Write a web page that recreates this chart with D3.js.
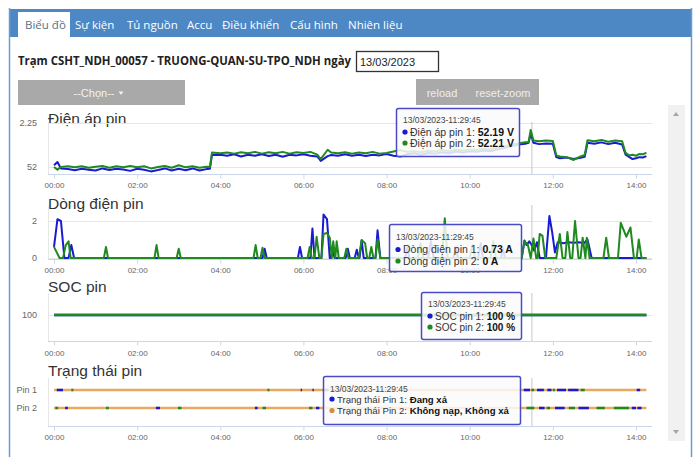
<!DOCTYPE html>
<html><head><meta charset="utf-8">
<script src="https://cdn.jsdelivr.net/npm/d3@7"></script>
<style>
html,body{margin:0;padding:0;background:#fff;overflow:hidden}
svg{display:block}
</style></head><body>
<svg id="c" width="696" height="457"></svg>
<script>
// ---------- DATA ----------
const tabs = ["Biểu đồ","Sự kiện","Tủ nguồn","Accu","Điều khiển","Cấu hình","Nhiên liệu"];
const stationTitle = "Trạm CSHT_NDH_00057 - TRUONG-QUAN-SU-TPO_NDH ngày";
const dateValue = "13/03/2023";
const chartTitles = ["Điện áp pin","Dòng điện pin","SOC pin","Trạng thái pin"];
const xTickLabels = ["00:00","02:00","04:00","06:00","08:00","10:00","12:00","14:00"];
const voltageTicks = [52, 52.25];
const voltageTickLabels = ["52", "2.25"];
const currentTicks = [0, 2];
const socTicks = [100];
const statusCategories = ["Pin 1","Pin 2"];

const voltagePin1 = [["00:00",52.010],["00:05",52.028],["00:10",51.992],["00:20",51.988],["00:30",51.982],["00:40",51.990],["00:50",51.985],["01:00",51.980],["01:10",51.992],["01:20",51.983],["01:30",51.990],["01:40",51.986],["01:50",51.978],["02:00",51.990],["02:10",51.984],["02:20",51.975],["02:30",51.983],["02:40",51.992],["02:50",51.980],["03:00",51.990],["03:10",51.982],["03:20",51.992],["03:30",51.980],["03:40",51.988],["03:45",51.990],["03:48",52.068],["04:00",52.070],["04:10",52.064],["04:20",52.072],["04:30",52.060],["04:40",52.070],["04:50",52.064],["05:00",52.072],["05:10",52.062],["05:20",52.070],["05:30",52.058],["05:40",52.070],["05:50",52.066],["06:00",52.072],["06:10",52.064],["06:20",52.060],["06:25",52.035],["06:35",52.062],["06:40",52.068],["06:50",52.064],["07:00",52.072],["07:10",52.064],["07:20",52.070],["07:30",52.062],["07:40",52.070],["07:50",52.066],["08:00",52.074],["08:10",52.064],["08:20",52.060],["08:30",52.072],["08:40",52.078],["08:50",52.070],["09:00",52.080],["09:10",52.076],["09:20",52.084],["09:30",52.078],["09:40",52.088],["09:50",52.082],["10:00",52.090],["10:10",52.086],["10:20",52.094],["10:30",52.090],["10:40",52.100],["10:50",52.108],["11:00",52.118],["11:10",52.128],["11:20",52.132],["11:25",52.138],["11:28",52.190],["11:32",52.138],["11:40",52.130],["11:50",52.134],["12:00",52.132],["12:05",52.056],["12:10",52.050],["12:20",52.054],["12:30",52.046],["12:40",52.052],["12:46",52.058],["12:50",52.138],["13:00",52.132],["13:10",52.140],["13:20",52.130],["13:30",52.138],["13:40",52.128],["13:45",52.070],["13:50",52.058],["13:55",52.045],["14:00",52.050],["14:05",52.056],["14:10",52.054],["14:15",52.062]];

const voltagePin2 = [["00:00",52.000],["00:05",51.985],["00:10",52.000],["00:20",52.004],["00:30",51.998],["00:40",52.004],["00:50",51.996],["01:00",52.002],["01:10",52.006],["01:20",51.996],["01:30",52.004],["01:40",51.998],["01:50",52.006],["02:00",51.998],["02:10",52.004],["02:20",51.992],["02:30",52.000],["02:40",52.006],["02:50",51.996],["03:00",52.010],["03:10",51.998],["03:20",52.004],["03:30",51.996],["03:40",52.002],["03:45",52.000],["03:48",52.082],["04:00",52.078],["04:10",52.082],["04:20",52.076],["04:30",52.084],["04:40",52.078],["04:50",52.086],["05:00",52.076],["05:10",52.084],["05:20",52.078],["05:30",52.086],["05:40",52.076],["05:50",52.084],["06:00",52.080],["06:10",52.086],["06:20",52.070],["06:25",52.045],["06:35",52.098],["06:40",52.082],["06:50",52.078],["07:00",52.084],["07:10",52.076],["07:20",52.082],["07:30",52.078],["07:40",52.086],["07:50",52.076],["08:00",52.080],["08:10",52.088],["08:20",52.096],["08:30",52.086],["08:40",52.090],["08:50",52.084],["09:00",52.092],["09:10",52.088],["09:20",52.096],["09:30",52.090],["09:40",52.098],["09:50",52.094],["10:00",52.100],["10:10",52.096],["10:20",52.104],["10:30",52.100],["10:40",52.110],["10:50",52.118],["11:00",52.126],["11:10",52.134],["11:20",52.140],["11:25",52.142],["11:28",52.210],["11:32",52.150],["11:40",52.146],["11:50",52.150],["12:00",52.148],["12:05",52.066],["12:10",52.060],["12:20",52.056],["12:30",52.040],["12:40",52.060],["12:46",52.068],["12:50",52.152],["13:00",52.146],["13:10",52.154],["13:20",52.144],["13:30",52.150],["13:40",52.146],["13:45",52.080],["13:50",52.066],["13:55",52.070],["14:00",52.064],["14:05",52.074],["14:10",52.072],["14:15",52.082]];

const currentPin1 = [["00:00",0.6],["00:05",2.1],["00:10",2.0],["00:15",0],["00:21",0],["00:25",0.7],["00:29",0],["05:01",0],["05:04",0.5],["05:07",0],["05:52",0],["05:55",0.6],["05:58",0],["06:10",0],["06:13",1.6],["06:16",0],["06:26",0],["06:29",2.35],["06:34",2.1],["06:38",0],["06:40",0],["06:42",0.5],["06:45",0],["07:01",0],["07:04",0.5],["07:07",0],["07:14",0],["07:17",0.45],["07:20",0],["07:21",0],["07:24",0.95],["07:27",0],["07:44",0],["07:47",1.5],["07:51",0],["08:27",0],["08:30",0.55],["08:33",0],["09:00",0],["09:04",0.9],["09:08",0],["09:36",0],["09:40",0.6],["09:43",0],["10:12",0],["10:16",0.8],["10:19",0],["10:45",0],["10:48",0.5],["10:51",0],["11:15",0],["11:19",0.95],["11:22",0.7],["11:26",0.9],["11:29",0.73],["11:33",0.4],["11:37",0.85],["11:41",0],["11:50",0],["11:55",2.27],["11:59",1.4],["12:03",0.3],["12:07",0.85],["12:15",0.8],["12:22",0.85],["12:30",0.82],["12:38",0.85],["12:45",0.8],["12:50",1.0],["12:56",0],["14:15",0]];

const currentPin2 = [["00:00",0.6],["00:08",0],["00:13",0],["00:17",0.7],["00:21",0.9],["00:24",0],["01:12",0],["01:15",0.6],["01:18",0],["02:25",0],["02:28",0.7],["02:31",0],["02:57",0],["03:00",0.5],["03:03",0],["04:48",0],["04:51",0.7],["04:54",0],["04:58",0],["05:01",0.55],["05:04",0],["06:06",0],["06:09",0.6],["06:12",0],["06:16",0],["06:19",1.15],["06:23",0],["06:26",0],["06:29",1.3],["06:34",1.35],["06:38",1.1],["06:41",0],["06:43",0.9],["06:46",0],["06:48",0.9],["06:51",0],["06:59",0],["07:02",0.5],["07:05",0],["07:20",0],["07:24",0.97],["07:29",0.8],["07:32",0],["07:35",0],["07:38",0.6],["07:41",0],["07:44",0],["07:47",1.0],["07:51",0],["08:45",0],["08:49",0.8],["08:53",0],["09:20",0],["09:24",2.15],["09:28",0],["10:00",0],["10:04",0.7],["10:08",0],["10:30",0],["10:34",0.9],["10:38",0],["11:15",0],["11:19",0.9],["11:24",0.7],["11:28",0],["11:32",1.05],["11:36",0],["11:38",0],["11:41",1.3],["11:45",1.2],["11:49",0],["12:05",0],["12:10",1.3],["12:14",0],["12:18",0],["12:21",1.4],["12:25",0],["12:28",0],["12:32",2.0],["12:37",0],["12:40",0],["12:43",1.1],["12:47",0],["12:49",1.1],["12:53",0],["13:13",0],["13:17",1.1],["13:21",0],["13:34",0],["13:38",1.9],["13:46",1.15],["13:52",1.65],["13:57",0],["14:01",0],["14:04",1.0],["14:08",0],["14:15",0]];

const socPin1 = [["00:00",100],["14:15",100]];
const socPin2 = [["00:00",100],["14:15",100]];

// status segments: [start, end, state]  0 = Không nạp, Không xả ; 1 = Đang xả ; 2 = Đang nạp
const statusRange = ["00:00","14:15"];
const statusPin1 = [["00:04","00:13",1],["00:25","00:28",2],["05:08","05:11",2],["05:56","05:58",1],["06:13","06:15",1],["06:28","06:36",1],["06:42","06:44",1],["07:03","07:05",1],["07:16","07:18",1],["07:23","07:26",2],["07:46","07:49",1],["11:18","11:27",1],["11:29","11:33",2],["11:37","11:47",1],["11:52","11:58",1],["12:00","12:03",2],["12:06","12:19",1],["12:22","12:37",1],["12:40","12:46",2],["14:01","14:06",1]];
const statusPin2 = [["00:02","00:06",2],["00:16","00:20",1],["01:15","01:19",2],["02:27","02:33",1],["02:59","03:04",2],["04:50","04:54",1],["05:01","05:06",2],["06:08","06:13",2],["06:18","06:23",1],["11:22","11:33",2],["11:40","11:48",1],["11:51","11:56",2],["12:03","12:17",1],["12:23","12:32",2],["12:37","12:52",1],["13:03","13:15",2],["13:28","13:50",2],["13:54","14:00",1],["14:02","14:08",1]];

const tooltipTime = "13/03/2023-11:29:45";
const tooltipVoltage = [["Điện áp pin 1: ","52.19 V"],["Điện áp pin 2: ","52.21 V"]];
const tooltipCurrent = [["Dòng điện pin 1: ","0.73 A"],["Dòng điện pin 2: ","0 A"]];
const tooltipSoc = [["SOC pin 1: ","100 %"],["SOC pin 2: ","100 %"]];
const tooltipStatus = [["Trạng thái Pin 1: ","Đang xả"],["Trạng thái Pin 2: ","Không nạp, Không xả"]];
const hoverTime = "11:29:45";

// ---------- STYLE ----------
const BLUE = "#1a1ad2", GREEN = "#1f8a1f", ORANGE = "#e9a95e";
const stateColors = [ORANGE, BLUE, GREEN];
const SANS = "'Liberation Sans', Arial, sans-serif";
const OPEN = "'Open Sans', 'Noto Sans', sans-serif";

const svg = d3.select("#c");
const parse = d3.timeParse("%H:%M");
const parseS = d3.timeParse("%H:%M:%S");

// ---------- PAGE CHROME ----------
svg.append("rect").attr("x",10).attr("y",9).attr("width",681).attr("height",28).attr("fill","#4d88c5");
svg.append("line").attr("x1",9.5).attr("x2",9.5).attr("y1",8).attr("y2",457).attr("stroke","#6b9bd0").attr("stroke-width",1.5);
svg.append("line").attr("x1",691.5).attr("x2",691.5).attr("y1",8).attr("y2",457).attr("stroke","#6b9bd0").attr("stroke-width",1.5);
svg.append("rect").attr("x",18).attr("y",12).attr("width",52).attr("height",25).attr("fill","#fff");
const tabX = [25,75,127,187,222,290,348];
svg.selectAll("text.tab").data(tabs).join("text").attr("class","tab")
  .attr("x",(d,i)=>tabX[i]).attr("y",28.5)
  .attr("font-family",OPEN).attr("font-size",11.5)
  .attr("fill",(d,i)=>i===0?"#5a6f86":"#fff").text(d=>d);

svg.append("text").attr("x",18).attr("y",64.5).attr("font-family",OPEN).attr("font-weight","bold")
  .attr("font-size",11.5).attr("fill","#222")
  .attr("textLength",333).attr("lengthAdjust","spacingAndGlyphs").text(stationTitle);
svg.append("rect").attr("x",356.5).attr("y",51.5).attr("width",82).attr("height",20).attr("fill","#fff").attr("stroke","#333").attr("stroke-width",1.3);
svg.append("text").attr("x",360).attr("y",66).attr("font-family",SANS).attr("font-size",11).attr("fill","#222").text(dateValue);

svg.append("rect").attr("x",18).attr("y",80).attr("width",167).attr("height",25).attr("fill","#a9a9a9");
svg.append("text").attr("x",94).attr("y",96.5).attr("text-anchor","middle").attr("font-family",SANS).attr("font-size",11).attr("fill","#f2f2f2").text("--Chọn--");
svg.append("path").attr("d","M118.5,91.5 l5,0 l-2.5,3.5 z").attr("fill","#f2f2f2");

svg.append("rect").attr("x",416).attr("y",79).attr("width",123).attr("height",26).attr("fill","#a9a9a9");
svg.append("text").attr("x",442).attr("y",96.5).attr("text-anchor","middle").attr("font-family",SANS).attr("font-size",11).attr("fill","#eee").text("reload");
svg.append("text").attr("x",503).attr("y",96.5).attr("text-anchor","middle").attr("font-family",SANS).attr("font-size",11).attr("fill","#eee").text("reset-zoom");

svg.append("rect").attr("x",668).attr("y",105).attr("width",17).attr("height",336).attr("fill","#f1f1f1");
svg.append("path").attr("d","M673,116 l6,0 l-3,-4 z").attr("fill","#a5a5a5");
svg.append("path").attr("d","M673,430 l6,0 l-3,4 z").attr("fill","#a5a5a5");

// ---------- CHARTS ----------
const x = d3.scaleTime().domain([parse("00:00"), parse("14:00")]).range([54, 636]);
const PL = 48, PR = 652;
const hx = x(parseS(hoverTime));

function frame(top, axisY, labelY) {
  const g = svg.append("g");
  g.append("line").attr("x1",PL+0.5).attr("x2",PL+0.5).attr("y1",top).attr("y2",axisY).attr("stroke","#e6e6e6");
  const ax = d3.axisBottom(x).tickValues(xTickLabels.map(parse)).tickFormat(d3.timeFormat("%H:%M")).tickSizeOuter(0).tickSize(4).tickPadding(labelY-axisY-10);
  const ag = g.append("g").attr("transform",`translate(0,${axisY+0.5})`).call(ax);
  ag.select(".domain").attr("d",`M${PL},0H${PR}`).attr("stroke","#ccd6eb");
  ag.selectAll(".tick line").attr("stroke","#ccd6eb");
  ag.selectAll(".tick text").attr("font-family",SANS).attr("font-size",8).attr("fill","#666");
  return g;
}
function yLabels(g, vals, yScale, labels) {
  g.selectAll("text.yl").data(vals).join("text").attr("class","yl")
    .attr("x",37).attr("y",d=>yScale(d)+3).attr("text-anchor","end")
    .attr("font-family",SANS).attr("font-size",9).attr("fill","#666")
    .text((d,i)=>labels[i]);
}
function grid(g, vals, yScale) {
  g.selectAll("line.gr").data(vals).join("line").attr("class","gr")
    .attr("x1",PL).attr("x2",PR).attr("y1",d=>Math.round(yScale(d))+0.5).attr("y2",d=>Math.round(yScale(d))+0.5)
    .attr("stroke","#e6e6e6");
}
function title(txt, y) {
  svg.append("text").attr("x",48).attr("y",y).attr("font-family",SANS).attr("font-size",15.5).attr("fill","#333").text(txt);
}
function crosshair(top, bottom) {
  svg.append("line").attr("x1",hx).attr("x2",hx).attr("y1",top).attr("y2",bottom).attr("stroke","#c8c8c8").attr("stroke-width",1);
}
function series(data, yScale, color, w) {
  const line = d3.line().x(d=>x(parse(d[0]))).y(d=>yScale(d[1]));
  svg.append("path").attr("d",line(data)).attr("fill","none").attr("stroke",color)
    .attr("stroke-width",w||2).attr("stroke-linejoin","round");
}
function tooltip(bx, by, bw, bh, rows, colors, hy, ly1, ly2, fs) {
  const g = svg.append("g");
  g.append("rect").attr("x",bx+0.5).attr("y",by+0.5).attr("width",bw).attr("height",bh).attr("rx",2)
    .attr("fill","rgba(250,250,250,0.86)").attr("stroke","#4a4ac8").attr("stroke-width",1.5);
  g.append("text").attr("x",bx+7).attr("y",hy).attr("font-family",SANS).attr("font-size",8.5).attr("fill","#444").text(tooltipTime);
  [ly1, ly2].forEach((ly,i)=>{
    g.append("circle").attr("cx",bx+9).attr("cy",ly-3.5).attr("r",2.6).attr("fill",colors[i]);
    const t = g.append("text").attr("x",bx+14).attr("y",ly).attr("font-family",SANS).attr("font-size",fs).attr("fill","#333");
    t.append("tspan").text(rows[i][0]);
    t.append("tspan").attr("font-weight","bold").attr("fill","#111").text(rows[i][1]);
  });
}

// Chart 1 : voltage
title(chartTitles[0], 124);
const y1 = d3.scaleLinear().domain([52, 52.25]).range([167, 123]);
const g1 = frame(122, 174, 188);
grid(g1, voltageTicks, y1);
yLabels(g1, voltageTicks, y1, voltageTickLabels);
crosshair(122, 174);
series(voltagePin1, y1, BLUE);
series(voltagePin2, y1, GREEN);

// Chart 2 : current
title(chartTitles[1], 208.5);
const y2 = d3.scaleLinear().domain([0, 2]).range([258, 221]);
const g2 = frame(206, 259, 272.5);
grid(g2, currentTicks, y2);
yLabels(g2, currentTicks, y2, currentTicks.map(String));
crosshair(205, 259);
series(currentPin1, y2, BLUE);
series(currentPin2, y2, GREEN);

// Chart 3 : SOC
title(chartTitles[2], 291.5);
const y3 = d3.scaleLinear().domain([99, 101]).range([337, 293]);
const g3 = frame(293, 341, 356);
grid(g3, socTicks, y3);
yLabels(g3, socTicks, y3, socTicks.map(String));
crosshair(293, 341);
series(socPin1, y3, BLUE, 2.5);
series(socPin2, y3, GREEN, 2.5);

// Chart 4 : status
title(chartTitles[3], 375.5);
const y4 = d3.scalePoint().domain(statusCategories).range([390, 408]);
const g4 = frame(378, 426, 439.5);
g4.selectAll("text.yl").data(statusCategories).join("text").attr("class","yl")
  .attr("x",37).attr("y",d=>y4(d)+3).attr("text-anchor","end")
  .attr("font-family",SANS).attr("font-size",9).attr("fill","#666").text(d=>d);
crosshair(378, 426);
[[statusCategories[0], statusPin1],[statusCategories[1], statusPin2]].forEach(([cat, segs])=>{
  const yy = y4(cat);
  svg.append("line").attr("x1",x(parse(statusRange[0]))).attr("x2",x(parse(statusRange[1])))
    .attr("y1",yy).attr("y2",yy).attr("stroke",ORANGE).attr("stroke-width",2.5);
  svg.selectAll(null).data(segs).join("line")
    .attr("x1",d=>x(parse(d[0]))).attr("x2",d=>x(parse(d[1])))
    .attr("y1",yy).attr("y2",yy).attr("stroke",d=>stateColors[d[2]]).attr("stroke-width",2.5);
});

// Tooltips
tooltip(396, 108, 123, 48, tooltipVoltage, [BLUE, GREEN], 123, 135.5, 146.5, 10.5);
tooltip(389, 224, 132, 47, tooltipCurrent, [BLUE, GREEN], 239.5, 253, 264.5, 10.5);
tooltip(421, 292, 100, 47, tooltipSoc, [BLUE, GREEN], 307, 319.5, 330.5, 10);
tooltip(323, 376, 197, 48, tooltipStatus, [BLUE, "#d98a40"], 391.5, 402.5, 414, 9.6);
</script>
</body></html>
